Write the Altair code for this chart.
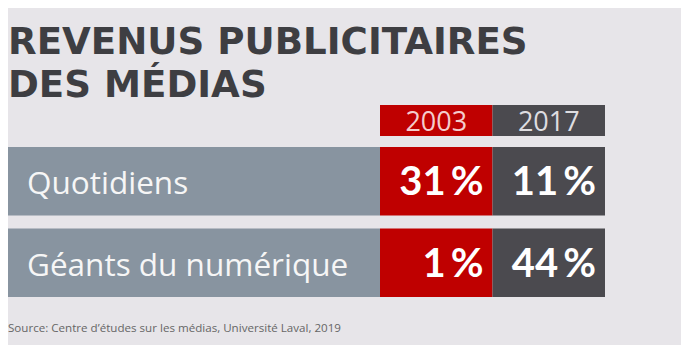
import altair as alt
import pandas as pd

categories = ["Quotidiens", "Géants du numérique"]
years = ["2003", "2017"]
values_2003 = [31, 1]
values_2017 = [11, 44]

title_lines = ["REVENUS PUBLICITAIRES", "DES MÉDIAS"]
source = "Source: Centre d’études sur les médias, Université Laval, 2019"

BG = "#e7e5e9"
RED = "#bf0000"
DARK = "#4b4a4f"
LABEL_BG = "#8894a0"

rows = []
for i, c in enumerate(categories):
    rows.append({"category": c, "year": years[0], "value": values_2003[i]})
    rows.append({"category": c, "year": years[1], "value": values_2017[i]})
df = pd.DataFrame(rows)
cat_df = pd.DataFrame({"category": categories})
year_df = pd.DataFrame({"year": years})

xs = alt.Scale(domain=years, paddingInner=0, paddingOuter=0)
ys = alt.Scale(domain=categories, paddingInner=0.16, paddingOuter=0)
col = alt.Scale(domain=years, range=[RED, DARK])

LW, RW, BH, HH = 372, 225, 150, 31

# header
spacer = alt.Chart(year_df).mark_rect(opacity=0).properties(width=LW, height=HH)
head_rect = alt.Chart(year_df).mark_rect().encode(
    x=alt.X("year:N", scale=xs, axis=None),
    color=alt.Color("year:N", scale=col, legend=None),
)
head_txt = alt.Chart(year_df).mark_text(
    font="Open Sans", fontSize=27, baseline="middle", dy=2
).encode(
    x=alt.X("year:N", scale=xs, axis=None),
    text="year:N",
    color=alt.condition(alt.datum.year == "2003", alt.value("#f4cccc"), alt.value("#dedde0")),
)
header = (head_rect + head_txt).properties(width=RW, height=HH)

# labels
lab_rect = alt.Chart(cat_df).mark_rect(color=LABEL_BG).encode(
    y=alt.Y("category:N", scale=ys, axis=None),
)
lab_txt = alt.Chart(cat_df).mark_text(
    font="Open Sans", fontSize=31.5, align="left", baseline="middle", color="#f6f6f6", dx=19, dy=4
).encode(
    y=alt.Y("category:N", scale=ys, axis=None),
    x=alt.value(0),
    text="category:N",
)
labels = (lab_rect + lab_txt).properties(width=LW, height=BH)

# values
val_txt_base = alt.Chart(df).transform_calculate(
    lbl="datum.value + '\u2009%'"
)
val_rect = alt.Chart(df).mark_rect().encode(
    x=alt.X("year:N", scale=xs, axis=None),
    y=alt.Y("category:N", scale=ys, axis=None),
    color=alt.Color("year:N", scale=col, legend=None),
)
val_txt = val_txt_base.mark_text(
    font="Lato", fontWeight="bold", fontSize=40, align="right", baseline="middle", color="white", dx=-9, dy=2
).encode(
    x=alt.X("year:N", scale=xs, axis=None, bandPosition=1),
    y=alt.Y("category:N", scale=ys, axis=None),
    text="lbl:N",
)
values = (val_rect + val_txt).properties(width=RW, height=BH)

top = alt.hconcat(spacer, header, spacing=0)
bottom = alt.hconcat(labels, values, spacing=0).properties(
    title=alt.TitleParams(
        source, orient="bottom", anchor="start", fontSize=11.6, font="Open Sans",
        fontWeight="normal", color="#666666", offset=26,
    )
)

chart = alt.vconcat(top, bottom, spacing=11).properties(
    title=alt.TitleParams(
        title_lines, anchor="start", fontSize=37.2, lineHeight=43,
        font="DejaVu Sans", fontWeight="bold",
        color="#3e3e42", offset=0,
    ),
    background=BG,
    padding={"left": 0, "top": 15, "right": 76, "bottom": 10},
).configure_view(stroke=None)

chart.save("out.html", embed_options={"renderer": "svg", "actions": False})
